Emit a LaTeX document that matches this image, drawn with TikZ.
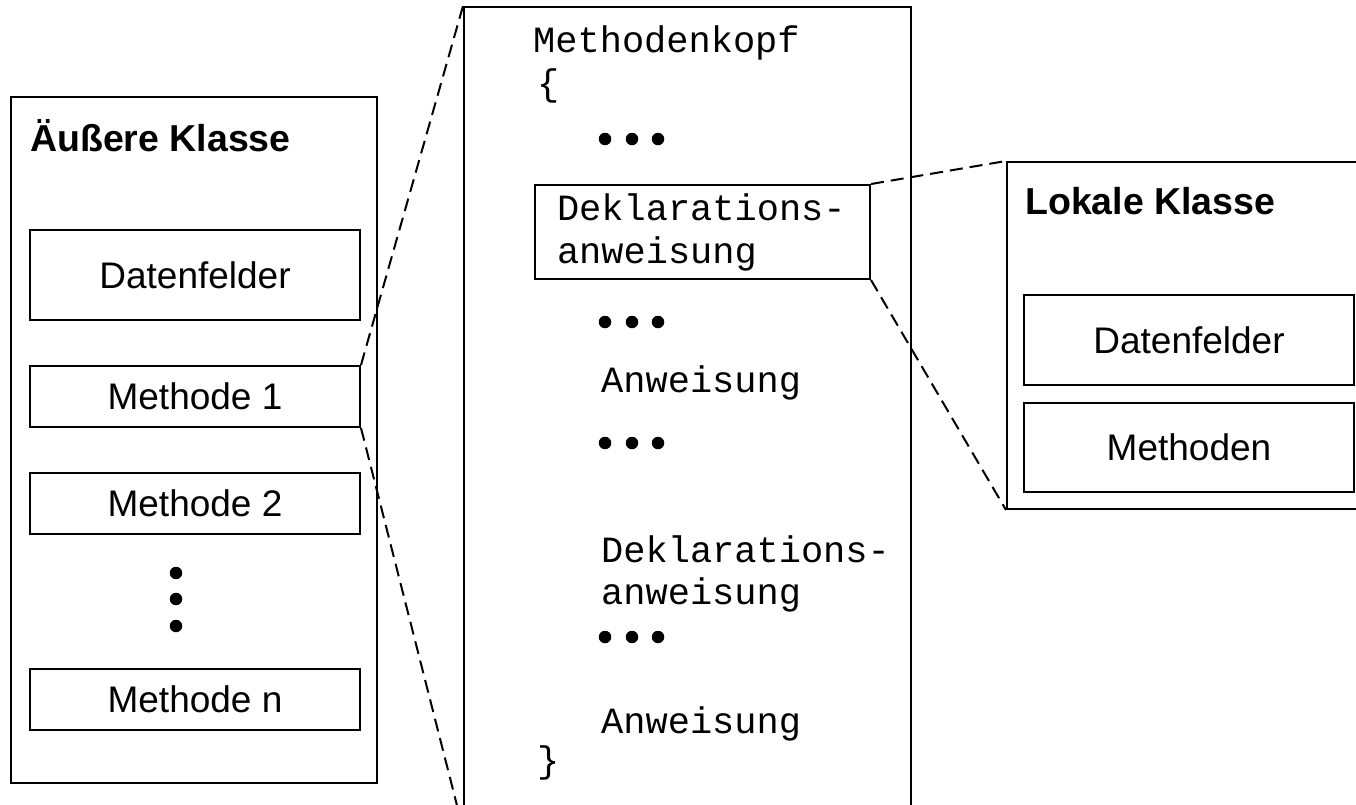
\documentclass[tikz,border=0pt]{standalone}
\usepackage{fontspec}
\setmainfont{Liberation Sans}
\setmonofont{Liberation Mono}
\begin{document}
\begin{tikzpicture}[x=1pt,y=-1pt,
  frame/.style={draw, line width=2pt, rectangle, inner sep=0pt, anchor=north west},
  cls/.style={frame, minimum width=330pt, font=\fontsize{37}{43}\selectfont},
  title/.style={anchor=base west, inner sep=0pt, font=\fontsize{37.5}{43}\selectfont\bfseries},
  code/.style={anchor=base west, inner sep=0pt, font=\fontsize{37}{43}\selectfont\ttfamily},
  blob/.style={circle, fill, inner sep=0pt, minimum size=12.5pt},
  zoomline/.style={line width=2pt, dash pattern=on 13pt off 7pt}]
\useasboundingbox (0,0) rectangle (1356,804);
\clip (0,0) rectangle (1356,804);

% outer class with its members
\node[frame, minimum width=366pt, minimum height=686pt] (outer) at (10,96) {};
\node[title] (outerT) at (30,151) {Äußere Klasse};
\node[cls, minimum height=90pt] (df1) at (29,229) {Datenfelder};
\node[cls, minimum height=61pt] (m1) at (29,365) {Methode 1};
\node[cls, minimum height=61pt] (m2) at (29,472) {Methode 2};
\node[blob] (v1) at (176,573) {};
\node[blob] (v2) at (176,599) {};
\node[blob] (v3) at (176,626) {};
\node[cls, minimum height=61pt] (mn) at (29,668) {Methode n};

% method body
\node[frame, minimum width=447pt, minimum height=821pt] (body) at (463,6) {};
\node[code] (head) at (533,52) {Methodenkopf};
\node[code] (open) at (537,95) {\{};
\node[blob] (a1) at (605,139) {};
\node[blob] (a2) at (632,139) {};
\node[blob] (a3) at (658,139) {};
\node[frame, minimum width=335pt, minimum height=94pt, inner xsep=22pt,
      text width=291pt, align=left, font=\fontsize{37}{43}\selectfont\ttfamily]
      (dek) at (534,184) {Deklarations-\\anweisung};
\node[blob] (b1) at (605,322) {};
\node[blob] (b2) at (632,322) {};
\node[blob] (b3) at (658,322) {};
\node[code] (anw1) at (601,392) {Anweisung};
\node[blob] (c1) at (605,443) {};
\node[blob] (c2) at (632,443) {};
\node[blob] (c3) at (658,443) {};
\node[code] (dek2a) at (601,562) {Deklarations-};
\node[code] (dek2b) at (601,604) {anweisung};
\node[blob] (e1) at (605,637) {};
\node[blob] (e2) at (632,637) {};
\node[blob] (e3) at (658,637) {};
\node[code] (anw2) at (601,733) {Anweisung};
\node[code] (close) at (537,772) {\}};

% local class
\node[frame, minimum width=364pt, minimum height=347pt] (local) at (1006,161) {};
\node[title] (localT) at (1025,214) {Lokale Klasse};
\node[cls, minimum height=90pt] (df2) at (1023,294) {Datenfelder};
\node[cls, minimum height=89pt] (meth) at (1023,402) {Methoden};

% zoom connectors
\draw[zoomline] (m1.north east) -- (body.north west);
\draw[zoomline] (m1.south east) -- (body.south west);
\draw[zoomline] (dek.north east) -- (local.north west);
\draw[zoomline] (dek.south east) -- (local.south west);
\end{tikzpicture}
\end{document}
